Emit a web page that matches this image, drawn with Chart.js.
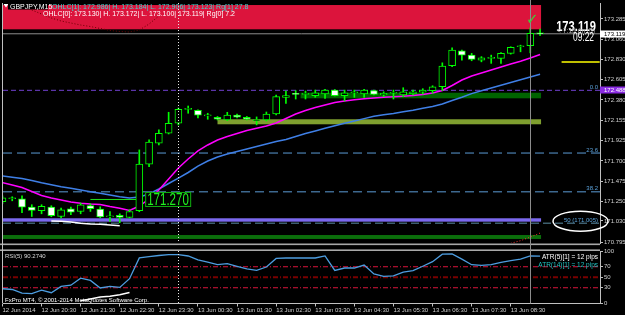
<!DOCTYPE html>
<html>
<head>
<meta charset="utf-8">
<script src="https://cdn.jsdelivr.net/npm/chart.js@4.4.1/dist/chart.umd.min.js"></script>
<style>
  html, body { margin: 0; padding: 0; background: #000; }
  #wrap { position: relative; width: 625px; height: 315px; overflow: hidden; background: #000; }
  canvas { position: absolute; left: 0; }
  #price { top: 0; }
  #rsi { top: 243px; }
</style>
</head>
<body>
<div id="wrap">
  <canvas id="price" width="625" height="247"></canvas>
  <canvas id="rsi" width="625" height="72"></canvas>
</div>
<script>
// DATA (GBPJPY M15, 12 Jun 19:30 -> 13 Jun 09:15)
const timeLabels = ["12 Jun 2014", "12 Jun 20:30", "12 Jun 21:30", "12 Jun 22:30", "12 Jun 23:30",
  "13 Jun 00:30", "13 Jun 01:30", "13 Jun 02:30", "13 Jun 03:30", "13 Jun 04:30",
  "13 Jun 05:30", "13 Jun 06:30", "13 Jun 07:30", "13 Jun 08:30"];
const timeTickBars = [0, 4, 8, 12, 16, 20, 24, 28, 32, 36, 40, 44, 48, 52];
const priceTicks = [173.285, 173.060, 172.830, 172.605, 172.380, 172.155, 171.925,
  171.700, 171.475, 171.250, 171.030, 170.795];

const opens = [171.244, 171.278, 171.278, 171.185, 171.144, 171.185, 171.080, 171.166, 171.136, 171.203,
  171.163, 171.074, 171.092, 171.069, 171.144, 171.664, 171.898, 172.009, 172.121, 172.276,
  172.265, 172.202, 172.187, 172.157, 172.213, 172.187, 172.150, 172.157, 172.224, 172.410,
  172.455, 172.443, 172.428, 172.447, 172.491, 172.428, 172.461, 172.447, 172.484, 172.436,
  172.455, 172.436, 172.447, 172.466, 172.484, 172.528, 172.762, 172.929, 172.881, 172.825,
  172.844, 172.844, 172.900, 172.974, 172.986, 173.130];
const highs = [171.311, 171.300, 171.311, 171.211, 171.211, 171.200, 171.174, 171.185, 171.230, 171.222,
  171.188, 171.136, 171.110, 171.155, 171.823, 171.935, 172.046, 172.243, 172.291, 172.313,
  172.269, 172.232, 172.196, 172.243, 172.224, 172.196, 172.191, 172.246, 172.436, 172.480,
  172.484, 172.480, 172.491, 172.499, 172.497, 172.491, 172.491, 172.499, 172.491, 172.472,
  172.491, 172.517, 172.491, 172.506, 172.539, 172.795, 172.962, 172.937, 172.900, 172.864,
  172.881, 172.909, 172.974, 172.992, 173.184, 173.172];
const lows = [171.222, 171.255, 171.122, 171.080, 171.110, 171.077, 171.063, 171.100, 171.110, 171.136,
  171.066, 171.025, 171.010, 171.063, 171.133, 171.637, 171.879, 172.001, 172.102, 172.232,
  172.180, 172.165, 172.157, 172.150, 172.180, 172.157, 172.102, 172.146, 172.213, 172.343,
  172.391, 172.391, 172.410, 172.399, 172.425, 172.369, 172.410, 172.410, 172.436, 172.417,
  172.391, 172.417, 172.436, 172.447, 172.455, 172.484, 172.751, 172.825, 172.818, 172.806,
  172.789, 172.789, 172.892, 172.918, 172.906, 173.100];
const closes = [171.289, 171.278, 171.185, 171.147, 171.192, 171.088, 171.155, 171.129, 171.211, 171.166,
  171.074, 171.088, 171.069, 171.136, 171.664, 171.909, 172.009, 172.121, 172.276, 172.276,
  172.210, 172.202, 172.165, 172.213, 172.187, 172.165, 172.150, 172.224, 172.417, 172.430,
  172.443, 172.443, 172.461, 172.491, 172.428, 172.461, 172.461, 172.491, 172.443, 172.455,
  172.455, 172.472, 172.472, 172.491, 172.528, 172.759, 172.937, 172.881, 172.833, 172.851,
  172.844, 172.900, 172.967, 172.974, 173.123, 173.119];

const maFast = [171.459, 171.431, 171.403, 171.359, 171.314, 171.286, 171.264, 171.242, 171.227, 171.219,
  171.214, 171.191, 171.171, 171.147, 171.197, 171.275, 171.376, 171.498, 171.621, 171.722,
  171.811, 171.878, 171.934, 171.973, 172.006, 172.040, 172.064, 172.090, 172.123, 172.174,
  172.224, 172.263, 172.296, 172.324, 172.352, 172.369, 172.383, 172.395, 172.402, 172.410,
  172.416, 172.422, 172.430, 172.441, 172.458, 172.486, 172.542, 172.603, 172.648, 172.681,
  172.715, 172.748, 172.782, 172.813, 172.849, 172.888];
const maSlow = [171.532, 171.517, 171.504, 171.482, 171.457, 171.435, 171.412, 171.395, 171.376, 171.357,
  171.339, 171.320, 171.301, 171.286, 171.297, 171.331, 171.387, 171.448, 171.509, 171.571,
  171.643, 171.699, 171.744, 171.777, 171.805, 171.833, 171.861, 171.889, 171.917, 171.939,
  171.973, 172.006, 172.034, 172.064, 172.093, 172.120, 172.146, 172.172, 172.198, 172.215,
  172.229, 172.248, 172.266, 172.287, 172.307, 172.335, 172.374, 172.410, 172.451, 172.483,
  172.514, 172.544, 172.575, 172.605, 172.637, 172.667];

const rsiValues = [28.2, 26.7, 19.6, 18.7, 25.3, 20.6, 32.6, 34.9, 48.2, 44.0,
  29.5, 32.6, 30.7, 47.2, 86.9, 89.3, 91.4, 93.0, 93.0, 90.5,
  83.0, 78.7, 73.9, 75.8, 70.9, 65.9, 63.2, 69.5, 85.9, 86.7,
  86.7, 86.7, 86.7, 90.7, 63.0, 67.6, 67.6, 73.3, 56.2, 51.6,
  52.6, 59.6, 62.5, 71.0, 79.6, 93.9, 94.3, 84.4, 73.9, 72.6,
  73.9, 78.3, 81.5, 84.4, 90.5, 90.27];
const rsiTicks = [100, 70, 50, 30, 0];
const rsiLevels = [70, 50, 30];

// objects drawn on the chart
const fibNames = ["0.0", "23.6", "38.2", "50 (171.005)"];
const fibPrices = [172.488, 171.788, 171.355, 171.005];
const bidPrice = 173.119;
const targetPrice = 172.804;
const targetBars = [57.2, 61.1];
const levelPrice = 171.270;
const levelBars = [9, 13.8];
const whiteBars = [5, 6, 7, 8, 9, 10, 11, 12];
const whitePrices = [171.030, 171.026, 171.018, 171.004, 170.996, 170.993, 170.985, 170.977];
const curveBars = [3, 4, 5, 6, 7, 8, 9, 10, 11, 12, 13, 14, 15, 16];
const curvePrices = [173.384, 173.340, 173.295, 173.262, 173.239, 173.217, 173.200, 173.178,
  173.156, 173.145, 173.139, 173.161, 173.228, 173.318];
const redBars = [52, 53, 54, 55];
const redPrices = [170.780, 170.810, 170.850, 170.895];
const rsiWhiteBars = [8, 9, 10, 11, 12, 13];
const rsiWhiteValues = [5.3, 8.6, 12.4, 13.7, 16.8, 21.0];
const zoneFrom = [-1, -1, 22, 30.5, -1];
const zoneTo = [55.1, 55.1, 55.1, 55.1, 55.1];
const zoneHigh = [173.440, 171.060, 172.165, 172.461, 170.873];
const zoneLow = [173.169, 171.022, 172.109, 172.399, 170.829];
const zoneColors = ["#dc143c", "#7b68ee", "#7f9f2f", "#006400", "#0b6e0b"];
const separatorBar = 18;
const cursorBar = 54;

// STYLE
const FONT = '"Liberation Sans", Arial, sans-serif';
const AXIS = "#c0c0c0";
const LIME = "#00ff00";
const X_MIN = 0.056;
const X_MAX = 61.13;
Chart.defaults.font.family = FONT;
Chart.defaults.color = "#d0d0d0";

const bars = opens.map((_, i) => i);
const pts = (xs, ys) => xs.map((x, k) => ({ x, y: ys[k] }));
const flat = (xs, v) => xs.map((x) => ({ x, y: v }));

function lineSet(data, color, width, dash, order) {
  return {
    type: "line", data, borderColor: color, borderWidth: width,
    borderDash: dash || [], pointRadius: 0, tension: 0, order,
  };
}

function condensed(ctx, text, x, y, sx, font, color, align) {
  ctx.save();
  ctx.translate(x, y);
  ctx.scale(sx, 1);
  ctx.font = font;
  ctx.fillStyle = color;
  ctx.textAlign = align;
  ctx.textBaseline = "alphabetic";
  ctx.fillText(text, 0, 0);
  ctx.restore();
}

function vLine(ctx, px, top, bottom, color, dash) {
  ctx.save();
  ctx.strokeStyle = color;
  ctx.lineWidth = 1;
  ctx.setLineDash(dash);
  ctx.beginPath();
  ctx.moveTo(Math.round(px) + 0.5, top);
  ctx.lineTo(Math.round(px) + 0.5, bottom);
  ctx.stroke();
  ctx.restore();
}

// PRICE PANEL
const priceDecor = {
  id: "priceDecor",
  beforeDatasetsDraw(chart) {
    const { ctx, chartArea: a, scales: { x, y } } = chart;
    ctx.save();
    ctx.beginPath();
    ctx.rect(a.left, a.top, a.right - a.left, a.bottom - a.top);
    ctx.clip();
    zoneHigh.forEach((hi, k) => {
      const x0 = x.getPixelForValue(zoneFrom[k]);
      const x1 = x.getPixelForValue(zoneTo[k]);
      const y0 = y.getPixelForValue(hi);
      const y1 = y.getPixelForValue(zoneLow[k]);
      ctx.fillStyle = zoneColors[k];
      ctx.fillRect(x0, y0, x1 - x0, y1 - y0);
    });
    ctx.restore();
  },
  afterDatasetsDraw(chart) {
    const { ctx, chartArea: a, scales: { x, y } } = chart;
    vLine(ctx, x.getPixelForValue(separatorBar), a.top, a.bottom, "#e8e8e8", [1, 2]);
    vLine(ctx, x.getPixelForValue(cursorBar), 0, a.bottom, "#8c8c8c", []);
    vLine(ctx, a.left - 1.5, a.top, a.bottom, AXIS, []);

    // fibo level captions
    ctx.save();
    ctx.font = `6px ${FONT}`;
    ctx.fillStyle = "#5aa0d8";
    ctx.textAlign = "right";
    ctx.textBaseline = "alphabetic";
    fibNames.forEach((n, k) => ctx.fillText(n, a.right - 2, y.getPixelForValue(fibPrices[k]) - 1.5));
    ctx.restore();

    // 171.270 label box
    const bx = x.getPixelForValue(14.6);
    const by = y.getPixelForValue(levelPrice);
    ctx.save();
    ctx.fillStyle = "#000";
    ctx.fillRect(bx, by - 7.5, 46, 15);
    ctx.strokeStyle = "#10b010";
    ctx.lineWidth = 1;
    ctx.strokeRect(bx + 0.5, by - 7, 45, 14);
    ctx.restore();
    condensed(ctx, "171.270", bx + 2, by + 6, 0.72, `16px ${FONT}`, "#20f020", "left");

    // check mark above last bars
    ctx.save();
    ctx.font = `bold 15px "DejaVu Sans", sans-serif`;
    ctx.fillStyle = "#3ad13a";
    ctx.textAlign = "center";
    ctx.textBaseline = "middle";
    ctx.fillText("\u2713", x.getPixelForValue(54.2), y.getPixelForValue(173.27));
    ctx.restore();

    // bid readout
    const yb = y.getPixelForValue(bidPrice);
    condensed(ctx, "173.119", a.right - 4, yb - 2.5, 0.8, `bold 14px ${FONT}`, "#ffffff", "right");
    condensed(ctx, "< 7:15 (m15)", a.right - 5, yb - 0.5, 0.95, `7px ${FONT}`, "#a8a8a8", "right");
    condensed(ctx, "09:22", a.right - 6, yb + 7.5, 0.7, `12px ${FONT}`, "#ffffff", "right");

    // header
    ctx.save();
    ctx.fillStyle = "#fff";
    ctx.beginPath();
    ctx.moveTo(3.5, 4); ctx.lineTo(8.5, 4); ctx.lineTo(6, 7.5); ctx.closePath();
    ctx.fill();
    ctx.fillStyle = "#000";
    ctx.fillRect(8, 1.5, 40, 8);
    ctx.font = `7px ${FONT}`;
    ctx.textBaseline = "alphabetic";
    ctx.fillStyle = "#ffffff";
    ctx.fillText("GBPJPY,M15", 10, 8.5);
    ctx.fillStyle = "#48d1cc";
    ctx.fillText("OHLC[1]: 172.986| H. 173.184| L. 172.906| 173.123| Rg[1] 27.8", 52, 8.5);
    ctx.fillStyle = "#ffffff";
    ctx.fillText("OHLC[0]: 173.130| H. 173.172| L. 173.100| 173.119| Rg[0] 7.2", 43, 16);
    ctx.restore();
  },
  afterDraw(chart) {
    const { ctx, scales: { y } } = chart;
    const tag = (price, bg, fg) => {
      const py = Math.round(y.getPixelForValue(price));
      ctx.fillStyle = bg;
      ctx.fillRect(y.left, py - 3.5, 25, 7);
      ctx.fillStyle = fg;
      ctx.font = `6px ${FONT}`;
      ctx.textAlign = "left";
      ctx.textBaseline = "middle";
      ctx.fillText(price.toFixed(3), y.left + 4, py);
    };
    ctx.save();
    tag(bidPrice, "#ffffff", "#000000");
    tag(fibPrices[0], "#8a2be2", "#ffffff");
    // circled 50% caption
    ctx.strokeStyle = "#ffffff";
    ctx.lineWidth = 1.5;
    ctx.beginPath();
    ctx.ellipse(y.left - 19.5, y.getPixelForValue(fibPrices[3]) - 2, 27.5, 10, 0, 0, Math.PI * 2);
    ctx.stroke();
    ctx.restore();
  },
};

const priceChart = new Chart(document.getElementById("price"), {
  type: "bar",
  data: {
    datasets: [
      {
        type: "bar", data: bars.map((i) => ({ x: i, y: [Math.min(opens[i], closes[i]), Math.max(opens[i], closes[i])] })),
        backgroundColor: bars.map((i) => (closes[i] >= opens[i] ? "#000000" : "#ffffff")),
        borderColor: LIME, borderWidth: 1, borderSkipped: false, barThickness: 7,
        minBarLength: 1, grouped: false, order: 0,
      },
      {
        type: "bar", data: bars.map((i) => ({ x: i, y: [lows[i], highs[i]] })),
        backgroundColor: LIME, barThickness: 1, grouped: false, order: 1,
      },
      lineSet(pts(bars, maFast), "#ff00ff", 1.5, null, 2),
      lineSet(pts(bars, maSlow), "#3f7fe6", 1.5, null, 3),
      lineSet(pts(whiteBars, whitePrices), "#ffffff", 1.5, null, 4),
      lineSet(flat(levelBars, levelPrice), "#20e020", 1, null, 4),
      lineSet(pts(curveBars, curvePrices), "#6a0000", 1, [1, 2], 4),
      lineSet(pts(redBars, redPrices), "#ff3030", 1, [1, 2], 4),
      lineSet(flat(targetBars, targetPrice), "#ffff00", 1.5, null, 5),
      lineSet(flat([X_MIN, X_MAX], bidPrice), "#8c8c8c", 1, null, 6),
      lineSet(flat([X_MIN, X_MAX], fibPrices[0]), "#7040d0", 1, [5, 3], 7),
      lineSet(flat([X_MIN, X_MAX], fibPrices[1]), "#5b9bd5", 1, [9, 5], 7),
      lineSet(flat([X_MIN, X_MAX], fibPrices[2]), "#5b9bd5", 1, [9, 5], 7),
      lineSet(flat([X_MIN, X_MAX], fibPrices[3]), "#3d5e6e", 1.5, [8, 4], 7),
    ],
  },
  options: {
    responsive: false,
    animation: false,
    devicePixelRatio: 1,
    layout: { padding: { top: 3, left: 3, right: 0, bottom: 4 } },
    plugins: { legend: { display: false }, tooltip: { enabled: false } },
    scales: {
      x: { type: "linear", min: X_MIN, max: X_MAX, offset: false, display: false },
      y: {
        position: "right",
        min: 170.784,
        max: 173.4626,
        afterBuildTicks: (s) => { s.ticks = priceTicks.map((v) => ({ value: v })); },
        afterFit: (s) => { s.width = 25; s.paddingTop = 0; s.paddingBottom = 0; },
        ticks: {
          autoSkip: false, padding: 1, color: "#d0d0d0",
          font: { size: 6 },
          callback: (v) => Number(v).toFixed(3),
        },
        grid: { drawOnChartArea: false, drawTicks: true, tickLength: 3, color: AXIS },
        border: { color: AXIS },
      },
    },
  },
  plugins: [priceDecor],
});

// RSI PANEL
const rsiDecor = {
  id: "rsiDecor",
  afterDatasetsDraw(chart) {
    const { ctx, chartArea: a, scales: { x } } = chart;
    ctx.save();
    ctx.fillStyle = "#a8a8a8";
    ctx.fillRect(0, a.top - 7.5, a.right, 1.6);
    ctx.fillRect(0, a.top - 1.6, a.right, 1.6);
    ctx.restore();
    vLine(ctx, x.getPixelForValue(separatorBar), a.top, a.bottom, "#e8e8e8", [1, 2]);
    vLine(ctx, x.getPixelForValue(cursorBar), a.top - 9, a.bottom, "#8c8c8c", []);
    vLine(ctx, a.left - 1.5, a.top - 9, a.bottom, AXIS, []);

    ctx.save();
    ctx.font = `6px ${FONT}`;
    ctx.textBaseline = "alphabetic";
    ctx.textAlign = "left";
    ctx.fillStyle = "#d8d8d8";
    ctx.fillText("RSI(5) 90.2740", a.left + 2, a.top + 7);
    ctx.fillStyle = "#ffffff";
    ctx.fillText("FxPro MT4, \u00a9 2001-2014 MetaQuotes Software Corp.", a.left + 2, a.bottom - 1.5);
    ctx.font = `6.5px ${FONT}`;
    ctx.textAlign = "right";
    ctx.fillText("ATR(5)[1] = 12 pips", a.right - 2, a.top + 8);
    ctx.fillStyle = "#20c0c0";
    ctx.fillText("ATR(14)[1] = 12 pips", a.right - 2, a.top + 16);
    ctx.restore();
  },
};

const rsiChart = new Chart(document.getElementById("rsi"), {
  type: "line",
  data: {
    datasets: [
      lineSet(pts(bars, rsiValues), "#4d9de0", 1.3, null, 0),
      lineSet(pts(rsiWhiteBars, rsiWhiteValues), "#ffffff", 1.5, null, 1),
      lineSet(flat([X_MIN, X_MAX], rsiLevels[0]), "#dc143c", 1, [5, 2, 1, 2], 2),
      lineSet(flat([X_MIN, X_MAX], rsiLevels[1]), "#7a0000", 2, [5, 2, 1, 2], 2),
      lineSet(flat([X_MIN, X_MAX], rsiLevels[2]), "#dc143c", 1, [5, 2, 1, 2], 2),
    ],
  },
  options: {
    responsive: false,
    animation: false,
    devicePixelRatio: 1,
    layout: { padding: { top: 8, left: 3, right: 0, bottom: 0 } },
    plugins: { legend: { display: false }, tooltip: { enabled: false } },
    scales: {
      x: {
        type: "linear", min: X_MIN, max: X_MAX, offset: false,
        afterBuildTicks: (s) => { s.ticks = timeTickBars.map((v) => ({ value: v })); },
        afterFit: (s) => { s.height = 11.5; s.paddingLeft = 0; s.paddingRight = 0; },
        ticks: {
          autoSkip: false, maxRotation: 0, minRotation: 0, align: "start", padding: 0,
          color: "#d0d0d0", font: { size: 6 },
          callback: (v, idx) => timeLabels[idx],
        },
        grid: { drawOnChartArea: false, drawTicks: true, tickLength: 3, color: AXIS },
        border: { color: AXIS },
      },
      y: {
        position: "right", min: 0, max: 100,
        afterBuildTicks: (s) => { s.ticks = rsiTicks.map((v) => ({ value: v })); },
        afterFit: (s) => { s.width = 25; s.paddingTop = 0; s.paddingBottom = 0; },
        ticks: { autoSkip: false, padding: 1, color: "#d0d0d0", font: { size: 6 } },
        grid: { drawOnChartArea: false, drawTicks: true, tickLength: 3, color: AXIS },
        border: { color: AXIS },
      },
    },
  },
  plugins: [rsiDecor],
});
</script>
</body>
</html>
